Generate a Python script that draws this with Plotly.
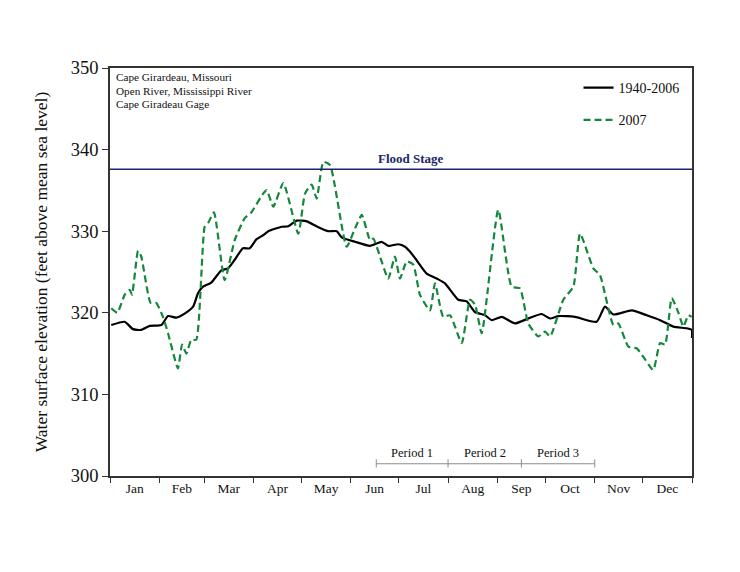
import numpy as np
import pandas as pd
import plotly.graph_objects as go

# ---- data (day of year from Jan 1, 2007 ; elevation in feet) ----
hist_days = [0.8, 9.2, 14.4, 19.6, 24.9, 32.2, 36.4, 41.6, 46.8, 52.1, 55.2, 58.3, 63.5, 69.8,
             74.0, 78.2, 83.4, 87.6, 91.8, 96.0, 99.3, 107.7, 111.8, 117.1, 123.4, 129.6, 136.9,
             142.2, 145.3, 153.7, 163.1, 170.4, 174.5, 180.8, 185.0, 188.1, 191.3, 198.6, 205.9,
             210.1, 218.4, 223.7, 228.9, 235.2, 239.4, 245.7, 254.0, 262.3, 270.7, 276.0, 281.2,
             291.6, 305.2, 310.4, 315.7, 327.2, 336.6, 345.0, 353.3, 361.7, 364.8, 365.0]
hist_vals = [318.5, 318.9, 318.0, 317.9, 318.4, 318.5, 319.6, 319.4, 319.9, 320.75, 322.4, 323.2,
             323.7, 325.2, 325.45, 326.5, 327.9, 327.9, 329.0, 329.5, 330.0, 330.55, 330.6, 331.3,
             331.2, 330.6, 330.0, 330.0, 329.25, 328.7, 328.2, 328.7, 328.2, 328.4, 328.1, 327.5,
             326.7, 324.8, 324.1, 323.6, 321.6, 321.4, 320.1, 319.7, 319.1, 319.5, 318.7, 319.3,
             319.85, 319.3, 319.6, 319.5, 318.9, 320.75, 319.8, 320.3, 319.7, 319.1, 318.3, 318.1,
             317.9, 316.9]

y2007_days = [0.8, 4.6, 9.2, 12.4, 13.8, 17.6, 19.6, 25.5, 29.0, 33.2, 36.4, 42.6, 45.2, 47.9,
              51.0, 54.1, 59.4, 61.5, 65.2, 71.9, 78.2, 84.5, 88.6, 96.0, 98.3, 102.4, 108.7,
              118.1, 122.3, 126.5, 129.6, 133.8, 138.0, 148.4, 153.7, 157.9, 163.1, 165.1, 174.5,
              178.7, 181.9, 186.1, 190.2, 194.4, 200.7, 203.8, 209.0, 213.2, 220.6, 225.8, 228.9,
              233.1, 243.5, 251.9, 257.1, 262.3, 268.6, 272.8, 276.0, 284.3, 290.6, 294.8, 303.1,
              307.3, 315.7, 318.8, 325.1, 330.3, 334.5, 340.7, 345.0, 348.1, 352.3, 356.5, 359.6,
              362.7, 364.8]
y2007_vals = [320.55, 320.0, 322.2, 322.8, 322.2, 327.6, 326.9, 321.2, 321.2, 319.5, 317.5, 313.2,
              316.1, 315.0, 316.7, 316.7, 330.55, 331.0, 332.3, 324.0, 328.9, 331.6, 332.3, 334.6,
              335.05, 333.0, 335.9, 329.7, 334.6, 335.7, 334.0, 338.5, 338.1, 328.1, 330.35, 332.0,
              328.9, 329.1, 324.2, 326.9, 324.2, 326.3, 325.9, 322.2, 320.3, 323.6, 319.5, 319.7,
              316.3, 321.6, 321.0, 317.5, 332.6, 323.2, 323.0, 318.7, 317.1, 317.7, 317.1, 321.6,
              323.2, 329.7, 325.45, 324.6, 318.5, 318.7, 315.85, 315.65, 314.6, 313.0, 316.3,
              316.1, 321.8, 320.0, 318.3, 319.7, 319.5]

flood_stage = 337.6
period_labels = ["Period 1", "Period 2", "Period 3"]
period_bounds = ["2007-06-17", "2007-08-01", "2007-09-16", "2007-11-01"]
info_lines = ["Cape Girardeau, Missouri", "Open River, Mississippi River", "Cape Giradeau Gage"]

start = pd.Timestamp("2007-01-01")
def to_dates(days):
    return start + pd.to_timedelta(np.array(days), unit="D")

FONT = "Liberation Serif, Times New Roman, serif"
GREEN = "#14873a"
NAVY = "#1c2766"
GRAY = "#8c8c8c"
TXT = "#111"

fig = go.Figure()
fig.add_trace(go.Scatter(x=to_dates(hist_days), y=hist_vals, mode="lines", name="1940-2006",
                         line=dict(color="black", width=2.2, shape="spline", smoothing=0.5),
                         legendgroup="a"))
fig.add_trace(go.Scatter(x=to_dates(y2007_days), y=y2007_vals, mode="lines", name="2007",
                         line=dict(color=GREEN, width=2.2, dash="7px,4px", shape="spline",
                                   smoothing=0.5),
                         legendgroup="b"))

# flood stage
fig.add_shape(type="line", xref="paper", x0=0, x1=1, yref="y", y0=flood_stage, y1=flood_stage,
              line=dict(color=NAVY, width=1.5))
fig.add_annotation(xref="paper", x=0.517, yref="y", y=flood_stage, yanchor="bottom", yshift=1,
                   text="<b>Flood Stage</b>", showarrow=False,
                   font=dict(family=FONT, size=13, color=NAVY))

# periods
py = 301.5
bd = pd.to_datetime(period_bounds)
fig.add_shape(type="line", xref="x", x0=bd[0], x1=bd[-1], yref="y", y0=py, y1=py,
              line=dict(color=GRAY, width=1))
for b in bd:
    fig.add_shape(type="line", xref="x", x0=b, x1=b, yref="y", y0=py - 0.45, y1=py + 0.55,
                  line=dict(color=GRAY, width=1))
for i, lab in enumerate(period_labels):
    mid = bd[i] + (bd[i + 1] - bd[i]) / 2
    fig.add_annotation(xref="x", x=mid, yref="y", y=py, yanchor="bottom", yshift=2,
                       text=lab, showarrow=False, font=dict(family=FONT, size=12.5, color=TXT))

for i, line in enumerate(info_lines):
    fig.add_annotation(xref="paper", x=0, xshift=4, yref="paper", y=1, yshift=-1 - 13.5 * i,
                       xanchor="left", yanchor="top", align="left",
                       text=line, showarrow=False,
                       font=dict(family=FONT, size=11.2, color=TXT))

fig.update_layout(
    width=740, height=572,
    margin=dict(l=102, r=56, t=60, b=104),
    paper_bgcolor="white", plot_bgcolor="white",
    font=dict(family=FONT, color=TXT),
    showlegend=True,
    legend=dict(x=0.805, xanchor="left", y=0.99, yanchor="top",
                font=dict(family=FONT, size=14, color=TXT), itemwidth=30,
                bgcolor="rgba(0,0,0,0)", tracegroupgap=11, traceorder="grouped"),
    xaxis=dict(range=["2007-01-01", "2008-01-01"], dtick="M1", tick0="2007-01-01",
               tickformat="%b", ticklabelmode="period", ticks="outside", ticklen=5,
               tickcolor="#333", showgrid=False, zeroline=False, ticklabelstandoff=-6,
               showline=True, linecolor="#333", linewidth=1.5, mirror=True,
               tickfont=dict(family=FONT, size=13.5, color=TXT)),
    yaxis=dict(range=[300, 350], dtick=10, ticks="outside", ticklen=6, tickcolor="#333",
               showgrid=False, zeroline=False, showline=True, linecolor="#333", linewidth=1.5,
               mirror=True, tickfont=dict(family=FONT, size=18.5, color=TXT),
               title=dict(text="Water surface elevation (feet above mean sea level)",
                          font=dict(family=FONT, size=17.5, color=TXT), standoff=19)),
)

fig.write_html("out.html")
